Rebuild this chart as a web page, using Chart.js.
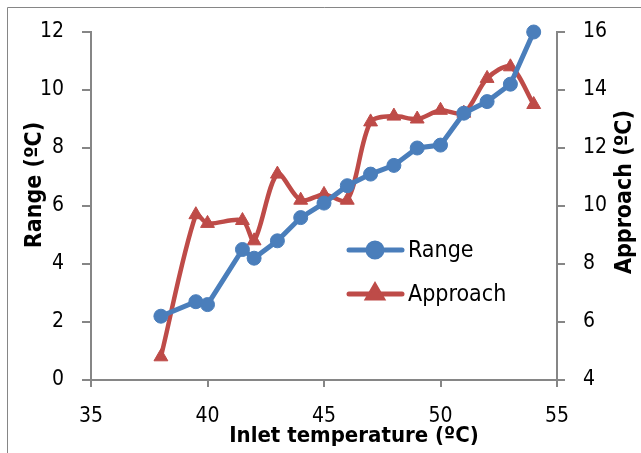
<!DOCTYPE html>
<html>
<head>
<meta charset="utf-8">
<script src="https://cdn.jsdelivr.net/npm/chart.js@4/dist/chart.umd.min.js"></script>
<style>
  html, body { margin: 0; padding: 0; background: #fff; }
  #wrap { width: 641px; height: 453px; }
</style>
</head>
<body>
<div id="wrap"><canvas id="c" width="641" height="453"></canvas></div>
<script>
// inlet temperature (x) and the two measured series
const inletTemp = [38, 39.5, 40, 41.5, 42, 43, 44, 45, 46, 47, 48, 49, 50, 51, 52, 53, 54];
const rangeVals = [2.2, 2.7, 2.6, 4.5, 4.2, 4.8, 5.6, 6.1, 6.7, 7.1, 7.4, 8.0, 8.1, 9.2, 9.6, 10.2, 12.0];
const approachVals = [4.8, 9.7, 9.4, 9.5, 8.8, 11.1, 10.2, 10.4, 10.2, 12.9, 13.1, 13.0, 13.3, 13.2, 14.4, 14.8, 13.5];

const xTicks = [35, 40, 45, 50, 55];
const leftTicks = [0, 2, 4, 6, 8, 10, 12];
const rightTicks = [4, 6, 8, 10, 12, 14, 16];

const FONT = '"Liberation Sans Narrow", "DejaVu Sans Condensed", sans-serif';
const BLUE = '#4a7ebb';
const RED = '#be4b48';
const AXIS = '#868686';

const pts = (xs, ys) => xs.map((x, i) => ({ x, y: ys[i] }));

// frame, axis titles and in-plot legend
const extras = {
  id: 'extras',
  afterDraw(chart) {
    const ctx = chart.ctx;
    ctx.save();
    ctx.strokeStyle = AXIS;
    ctx.lineWidth = 1;
    ctx.beginPath();
    ctx.moveTo(7.5, 460);
    ctx.lineTo(7.5, 7.5);
    ctx.lineTo(660, 7.5);
    ctx.stroke();

    ctx.fillStyle = '#000';
    ctx.textAlign = 'center';
    ctx.textBaseline = 'middle';
    ctx.font = 'bold 22px ' + FONT;
    ctx.fillText('Inlet temperature (ºC)', 354, 436);

    ctx.font = 'bold 23px ' + FONT;
    ctx.save();
    ctx.translate(35, 185);
    ctx.rotate(-Math.PI / 2);
    ctx.fillText('Range (ºC)', 0, 0);
    ctx.restore();

    ctx.save();
    ctx.translate(625, 192);
    ctx.rotate(-Math.PI / 2);
    ctx.fillText('Approach (ºC)', 0, 0);
    ctx.restore();

    // legend
    const rows = [
      { label: 'Range', color: BLUE, style: 'circle', y: 250 },
      { label: 'Approach', color: RED, style: 'triangle', y: 294 }
    ];
    ctx.font = '23px ' + FONT;
    ctx.textAlign = 'left';
    rows.forEach(r => {
      ctx.strokeStyle = r.color;
      ctx.lineWidth = 5;
      ctx.lineCap = 'round';
      ctx.beginPath();
      ctx.moveTo(349, r.y);
      ctx.lineTo(402, r.y);
      ctx.stroke();
      Chart.helpers.drawPoint(ctx, { pointStyle: r.style, radius: r.style === 'circle' ? 7 : 8, borderWidth: 1 }, 375, r.y);
      ctx.fillStyle = r.color;
      ctx.fill();
      ctx.fillStyle = '#000';
      ctx.fillText(r.label, 408, r.y + 1);
    });
    ctx.restore();
  }
};

new Chart(document.getElementById('c'), {
  type: 'line',
  data: {
    datasets: [
      {
        label: 'Range',
        data: pts(inletTemp, rangeVals),
        yAxisID: 'y',
        borderColor: BLUE,
        backgroundColor: BLUE,
        borderWidth: 5,
        pointStyle: 'circle',
        pointRadius: 7,
        pointBorderWidth: 1,
        tension: 0,
        clip: false
      },
      {
        label: 'Approach',
        data: pts(inletTemp, approachVals),
        yAxisID: 'y2',
        borderColor: RED,
        backgroundColor: RED,
        borderWidth: 4.5,
        pointStyle: 'triangle',
        pointRadius: 8,
        pointBorderWidth: 1,
        tension: 0.3,
        clip: false
      }
    ]
  },
  options: {
    responsive: false,
    animation: false,
    layout: { padding: { top: 32, left: 0, right: 0, bottom: 0 } },
    plugins: { legend: { display: false }, tooltip: { enabled: false } },
    scales: {
      x: {
        type: 'linear',
        min: 35, max: 55,
        afterBuildTicks: s => { s.ticks = xTicks.map(v => ({ value: v })); },
        afterFit: s => { s.height = 73; },
        grid: { drawOnChartArea: false, color: AXIS, tickLength: 7, lineWidth: 2 },
        border: { color: AXIS, width: 2 },
        ticks: { color: '#000', font: { family: FONT, size: 21 }, padding: 17, maxRotation: 0 }
      },
      y: {
        position: 'left',
        min: 0, max: 12,
        afterBuildTicks: s => { s.ticks = leftTicks.map(v => ({ value: v })); },
        afterFit: s => { s.width = 91; },
        grid: { drawOnChartArea: false, color: AXIS, tickLength: 9, lineWidth: 2 },
        border: { color: AXIS, width: 2 },
        ticks: { color: '#000', font: { family: FONT, size: 21 }, padding: 18 }
      },
      y2: {
        position: 'right',
        min: 4, max: 16,
        afterBuildTicks: s => { s.ticks = rightTicks.map(v => ({ value: v })); },
        afterFit: s => { s.width = 84; },
        grid: { drawOnChartArea: false, color: AXIS, tickLength: 8, lineWidth: 2 },
        border: { color: AXIS, width: 2 },
        ticks: { color: '#000', font: { family: FONT, size: 21 }, padding: 18 }
      }
    }
  },
  plugins: [extras]
});
</script>
</body>
</html>
